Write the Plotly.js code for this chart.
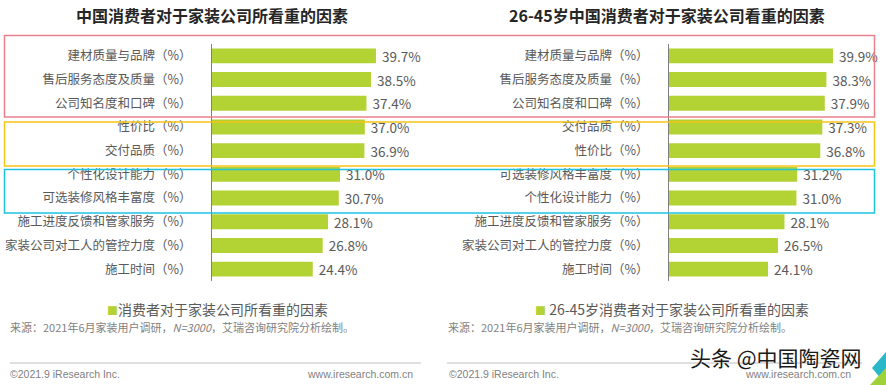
<!DOCTYPE html>
<html>
<head>
<meta charset="utf-8">
<script src="https://cdn.plot.ly/plotly-3.0.1.min.js"></script>
<style>html,body{margin:0;padding:0;background:#fff;}#chart{width:886px;height:385px;}</style>
</head>
<body>
<div id="chart"></div>
<script>
const leftCategories = ["建材质量与品牌（%）","售后服务态度及质量（%）","公司知名度和口碑（%）","性价比（%）","交付品质（%）","个性化设计能力（%）","可选装修风格丰富度（%）","施工进度反馈和管家服务（%）","家装公司对工人的管控力度（%）","施工时间（%）"];
const leftValues = [39.7,38.5,37.4,37.0,36.9,31.0,30.7,28.1,26.8,24.4];
const rightCategories = ["建材质量与品牌（%）","售后服务态度及质量（%）","公司知名度和口碑（%）","交付品质（%）","性价比（%）","可选装修风格丰富度（%）","个性化设计能力（%）","施工进度反馈和管家服务（%）","家装公司对工人的管控力度（%）","施工时间（%）"];
const rightValues = [39.9,38.3,37.9,37.3,36.8,31.2,31.0,28.1,26.5,24.1];
const leftTitle = "中国消费者对于家装公司所看重的因素";
const rightTitle = "26-45岁中国消费者对于家装公司看重的因素";
const leftSeries = "消费者对于家装公司所看重的因素";
const rightSeries = "26-45岁消费者对于家装公司所看重的因素";
const sourceText = "来源：2021年6月家装用户调研，<i>N=3000</i>，艾瑞咨询研究院分析绘制。";

const W = 886, H = 385;
const px = v => v / W;
const py = v => 1 - v / H;
const FONT = '"Noto Sans CJK SC", "Microsoft YaHei", sans-serif';
const GREEN = '#b3d234';
const GREY = '#595959';

const barCommon = {
  type: 'bar', orientation: 'h', marker: {color: GREEN}, width: 0.63,
  textposition: 'outside', cliponaxis: false, constraintext: 'none',
  texttemplate: ' %{x:.1f}%', textfont: {family: FONT, size: 13.5, color: GREY},
  hoverinfo: 'skip', showlegend: false
};
const data = [
  Object.assign({}, barCommon, {x: leftValues, y: leftCategories, name: leftSeries, xaxis: 'x', yaxis: 'y'}),
  Object.assign({}, barCommon, {x: rightValues, y: rightCategories, name: rightSeries, xaxis: 'x2', yaxis: 'y2'})
];

const yDomain = [py(281), py(44)];
const yCommon = {
  domain: yDomain, autorange: 'reversed', type: 'category',
  showline: true, linecolor: '#7f7f7f', linewidth: 1,
  showgrid: false, zeroline: false, ticks: '', ticklabelstandoff: 17,
  tickfont: {family: FONT, size: 12.5, color: GREY}
};
const xCommon = {range: [0, 50], showgrid: false, zeroline: false, showline: false, showticklabels: false, fixedrange: true};

function ann(text, x, y, size, opts) {
  return Object.assign({text: text, x: px(x), y: py(y), xref: 'paper', yref: 'paper', showarrow: false,
    font: {family: FONT, size: size, color: '#7f7f7f'}, xanchor: 'left', yanchor: 'middle'}, opts || {});
}
const legendMark = '<span style="color:' + GREEN + ';font-size:11px">■</span>';

const layout = {
  width: W, height: H, margin: {l: 0, r: 0, t: 0, b: 0},
  paper_bgcolor: '#ffffff', plot_bgcolor: 'rgba(0,0,0,0)',
  font: {family: FONT},
  showlegend: false,
  xaxis: Object.assign({}, xCommon, {domain: [px(212), px(212 + 4.13 * 50)], anchor: 'y'}),
  yaxis: Object.assign({}, yCommon, {anchor: 'x'}),
  xaxis2: Object.assign({}, xCommon, {domain: [px(669), px(669 + 4.11 * 50)], anchor: 'y2'}),
  yaxis2: Object.assign({}, yCommon, {anchor: 'x2'}),
  shapes: [
    {type: 'rect', xref: 'paper', yref: 'paper', x0: px(4.5), x1: px(874.5), y0: py(35.5), y1: py(117), line: {color: '#e8808e', width: 1.5}},
    {type: 'rect', xref: 'paper', yref: 'paper', x0: px(4.5), x1: px(874.5), y0: py(122), y1: py(166), line: {color: '#f5c518', width: 1.5}},
    {type: 'rect', xref: 'paper', yref: 'paper', x0: px(4.5), x1: px(874.5), y0: py(169.5), y1: py(213), line: {color: '#1ec3e0', width: 1.5}},
    {type: 'line', xref: 'paper', yref: 'paper', x0: px(10), x1: px(421), y0: py(363), y1: py(363), line: {color: '#bfbfbf', width: 1}},
    {type: 'line', xref: 'paper', yref: 'paper', x0: px(447), x1: px(862), y0: py(363), y1: py(363), line: {color: '#bfbfbf', width: 1}},
    {type: 'path', xref: 'paper', yref: 'paper', path: 'M ' + px(886) + ' ' + py(352) + ' L ' + px(872) + ' ' + py(368) + ' L ' + px(886) + ' ' + py(385) + ' Z', fillcolor: '#2ab8c8', line: {width: 0}},
    {type: 'path', xref: 'paper', yref: 'paper', path: 'M ' + px(886) + ' ' + py(368) + ' L ' + px(870) + ' ' + py(385) + ' L ' + px(886) + ' ' + py(385) + ' Z', fillcolor: '#9fd13a', line: {width: 0}}
  ],
  annotations: [
    ann('<b>' + leftTitle + '</b>', 212, 15, 16, {xanchor: 'center', font: {family: FONT, size: 16, color: '#262626'}}),
    ann('<b>' + rightTitle + '</b>', 667, 15, 16, {xanchor: 'center', font: {family: FONT, size: 16, color: '#262626'}}),
    ann(legendMark + leftSeries, 105, 309, 14, {font: {family: FONT, size: 14, color: GREY}}),
    ann(legendMark + ' ' + rightSeries, 533, 309, 14, {font: {family: FONT, size: 14, color: GREY}}),
    ann(sourceText, 8, 327, 11),
    ann(sourceText, 446, 327, 11),
    ann('©2021.9 iResearch Inc.', 8, 374, 10.5, {font: {family: 'Arial, "Liberation Sans", sans-serif', size: 10.5, color: '#7f7f7f'}}),
    ann('www.iresearch.com.cn', 415, 374, 10.5, {xanchor: 'right', font: {family: 'Arial, "Liberation Sans", sans-serif', size: 10.5, color: '#7f7f7f'}}),
    ann('©2021.9 iResearch Inc.', 447, 374, 10.5, {font: {family: 'Arial, "Liberation Sans", sans-serif', size: 10.5, color: '#7f7f7f'}}),
    ann('www.iresearch.com.cn', 853, 374, 10.5, {xanchor: 'right', font: {family: 'Arial, "Liberation Sans", sans-serif', size: 10.5, color: '#7f7f7f'}}),
    ann('头条 @中国陶瓷网', 688, 357, 21, {font: {family: FONT, size: 21, color: '#1a1a1a'}})
  ]
};

Plotly.newPlot('chart', data, layout, {displayModeBar: false, staticPlot: true});
</script>
</body>
</html>
